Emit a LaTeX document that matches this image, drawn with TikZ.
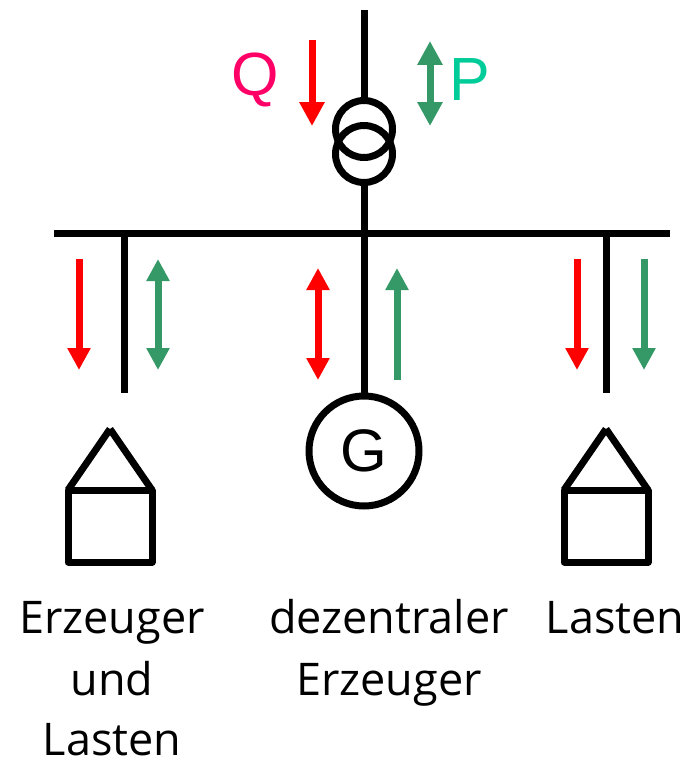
\documentclass[tikz,border=0pt]{standalone}
\usepackage{fontspec}
\setmainfont{Open Sans}
\setsansfont{Liberation Sans}
\usepackage{tikz}
\usetikzlibrary{arrows.meta}
\definecolor{qred}{RGB}{255,0,0}
\definecolor{pgreen}{RGB}{52,153,102}
\definecolor{qlabel}{RGB}{255,0,102}
\definecolor{plabel}{RGB}{0,204,153}
\tikzset{x=1pt,y=-1pt,
  wire/.style={line width=7pt},
  ring/.style={draw,circle,line width=7pt,inner sep=0pt,minimum size=#1},
  flow/.style={line width=7pt,-{Triangle[length=#1,width=#1]}},
  flow/.default=22pt,
  flowboth/.style={line width=7pt,{Triangle[length=#1,width=#1]}-{Triangle[length=#1,width=#1]}},
  flowboth/.default=22pt,
  caption/.style={font=\fontsize{45}{45}\selectfont,inner sep=0pt,anchor=base,align=center},
  symbol/.style={font=\sffamily\fontsize{61}{61}\selectfont,inner sep=0pt}}
\begin{document}
\begin{tikzpicture}
	  \useasboundingbox (0,0) rectangle (688,760);
	  \coordinate (top) at (364,10);
	  \coordinate (busL) at (54,233);
	  \coordinate (busR) at (670,233);
	  \coordinate (busA) at (124,233);
	  \coordinate (busB) at (364,233);
	  \coordinate (busC) at (606,233);
	  \coordinate (endA) at (124,393);
	  \coordinate (endC) at (606,393);
	  \node[ring=57pt] (T1) at (364,129) {};
	  \node[ring=57pt] (T2) at (364,154) {};
	  \node[ring=110pt,font=\sffamily\fontsize{60}{60}\selectfont] (G) at (364,451) {G};

	  \draw[wire] (top) -- (T1.north);
	  \draw[wire] (T2.south) -- (busB) -- (G.north);
	  \draw[wire] (busL) -- (busR);
	  \draw[wire] (busA) -- (endA);
	  \draw[wire] (busC) -- (endC);

	  %houses
	  \foreach \x/\n in {110/A,606/C}{%
	  \draw[wire,line join=round] (\x-42,490) rectangle (\x+42,562);
	  \draw[wire] (\x-42,490) -- (\x,429);
	  \draw[wire] (\x+42,490) -- (\x,429);
	  }

	  %arrows
	  \coordinate (qT1) at (312,40); \coordinate (qT2) at (312,126);
	  \coordinate (pT1) at (430,41); \coordinate (pT2) at (430,126);
	  \coordinate (qA1) at (79,259); \coordinate (qA2) at (79,370);
	  \coordinate (pA1) at (158,259); \coordinate (pA2) at (158,370);
	  \coordinate (qB1) at (318,268); \coordinate (qB2) at (318,380);
	  \coordinate (pB1) at (397,380); \coordinate (pB2) at (397,268);
	  \coordinate (qC1) at (577,259); \coordinate (qC2) at (577,370);
	  \coordinate (pC1) at (644,259); \coordinate (pC2) at (644,370);
	  \draw[flow=24pt,qred] (qT1) -- (qT2);
	  \draw[flowboth=24pt,pgreen] (pT1) -- (pT2);
	  \draw[flow,qred] (qA1) -- (qA2);
	  \draw[flowboth,pgreen] (pA1) -- (pA2);
	  \draw[flowboth,qred] (qB1) -- (qB2);
	  \draw[flow,pgreen] (pB1) -- (pB2);
	  \draw[flow,qred] (qC1) -- (qC2);
	  \draw[flow,pgreen] (pC1) -- (pC2);

	  \node[symbol,text=qlabel] (Q) at (255,80) {Q};
	  \node[symbol,text=plabel] (P) at (470,80) {P};

	  \node[caption] (capA1) at (112,633) {Erzeuger};
	  \node[caption] (capA2) at (112,695) {und};
	  \node[caption] (capA3) at (112,755) {Lasten};
	  \node[caption] (capB1) at (389,633) {dezentraler};
	  \node[caption] (capB2) at (389,695) {Erzeuger};
	  \node[caption] (capC1) at (615,633) {Lasten};
	\end{tikzpicture}
\end{document}
